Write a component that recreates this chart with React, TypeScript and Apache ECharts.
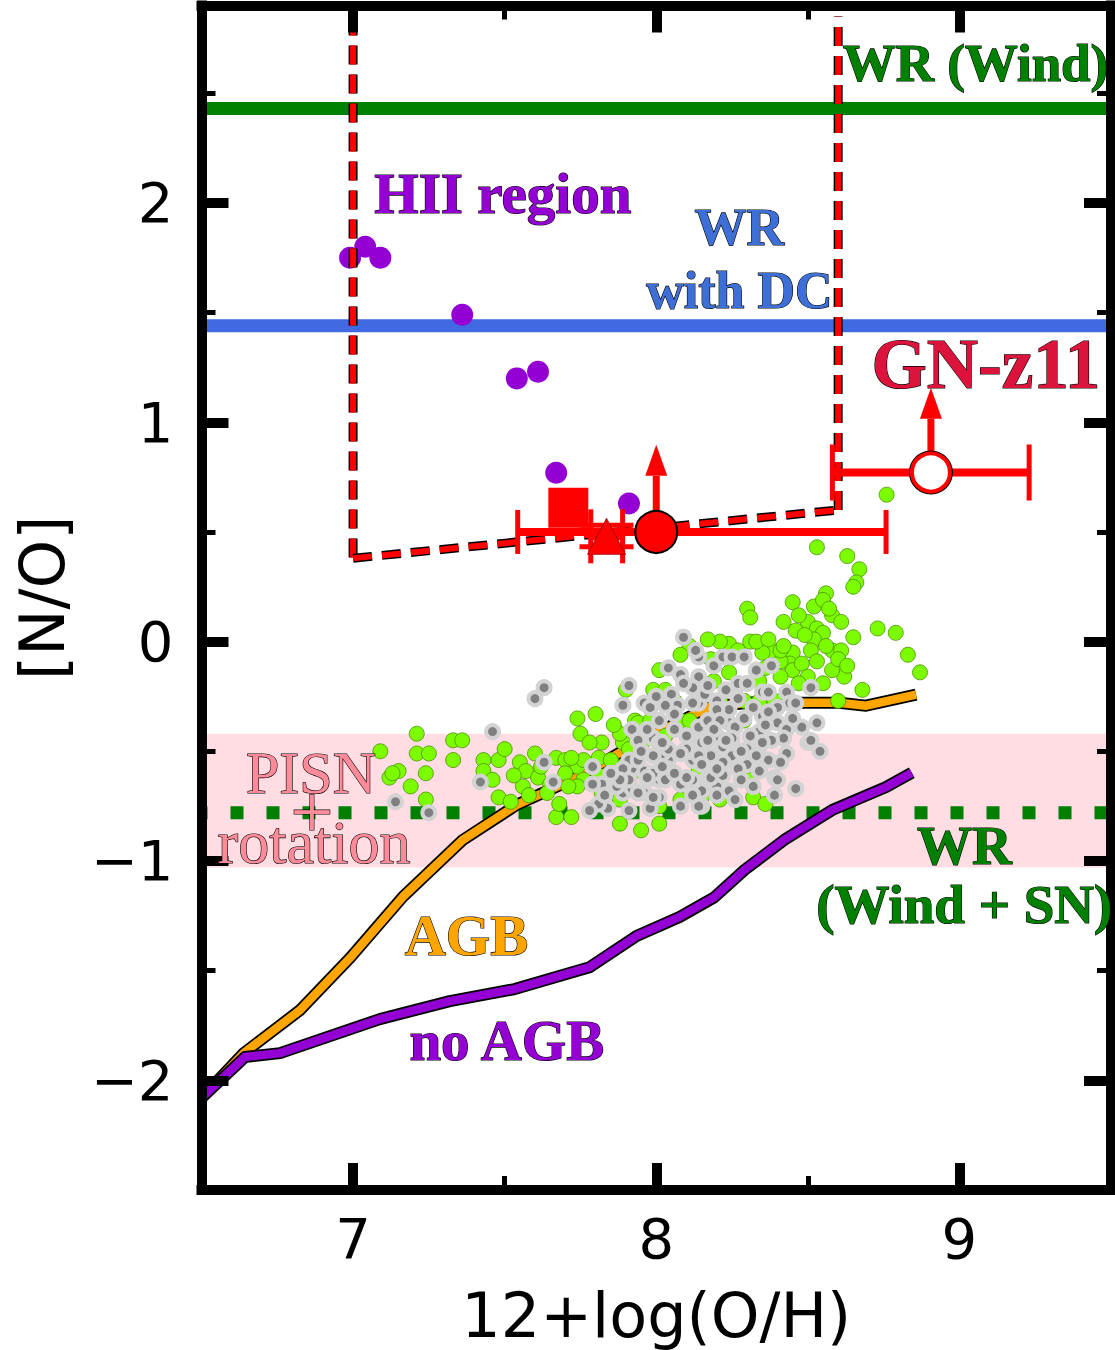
import React, { useEffect, useRef } from "react";
import * as echarts from "echarts";

const X_MIN = 6.5;
const X_MAX = 9.5;
const Y_MIN = -2.5;
const Y_MAX = 2.9;
const xMajorTicks = [7, 8, 9];
const xMinorTicks = [7.5, 8.5];
const yMajorTicks = [-2, -1, 0, 1, 2];
const yMinorTicks = [-1.5, -0.5, 0.5, 1.5, 2.5];

const wrWindLevel = 2.43;
const wrDcLevel = 1.44;
const wrWindSnLevel = -0.78;
const pisnBand = [-0.42, -1.03];

const agbCurve: [number, number][] = [
  [6.5, -2.08], [6.64, -1.875], [6.825, -1.68], [6.99, -1.442], [7.164, -1.164],
  [7.362, -0.904], [7.54, -0.744], [7.757, -0.607], [7.935, -0.461], [8.176, -0.297],
  [8.34, -0.274], [8.472, -0.279], [8.603, -0.279], [8.692, -0.292], [8.857, -0.242],
];

const noAgbCurve: [number, number][] = [
  [6.5, -2.08], [6.643, -1.894], [6.759, -1.876], [7.088, -1.721], [7.319, -1.639],
  [7.533, -1.584], [7.78, -1.484], [7.935, -1.342], [8.077, -1.255], [8.192, -1.165],
  [8.291, -1.041], [8.422, -0.904], [8.58, -0.768], [8.758, -0.663], [8.843, -0.598],
];

const hiiRegion: [number, number][] = [
  [6.99, 1.75], [7.04, 1.8], [7.09, 1.75], [7.36, 1.49], [7.54, 1.2],
  [7.61, 1.23], [7.67, 0.77], [7.91, 0.63],
];

const localGreen: [number, number][] = [
  [8.76, 0.67], [8.53, 0.43], [8.63, 0.39], [8.67, 0.33], [8.66, 0.27], [8.65, 0.25], [8.56, 0.22],
  [8.3, 0.15], [8.31, 0.11], [8.45, 0.18], [8.52, 0.16], [8.55, 0.19], [8.58, 0.12], [8.61, 0.09],
  [8.5, 0.09], [8.42, 0.09], [8.46, 0.05], [8.53, 0.06], [8.55, 0.04], [8.73, 0.06], [8.79, 0.04],
  [8.65, 0.02], [8.83, -0.06], [8.87, -0.14], [8.68, -0.22], [8.62, -0.16], [8.58, -0.13], [8.58, -0.04],
  [8.61, -0.04], [8.6, -0.08], [8.52, 0.01], [8.51, -0.04], [8.45, -0.05], [8.44, -0.1], [8.45, -0.13],
  [8.48, -0.1], [8.5, -0.16], [8.53, -0.09], [8.47, -0.19], [8.41, -0.09], [8.38, -0.04], [8.35, -0.05],
  [8.36, -0.12], [8.41, -0.16], [8.31, 0.0], [8.33, 0.0], [8.24, -0.01], [8.21, 0.0], [8.17, 0.01],
  [8.6, -0.27], [8.32, -0.71], [8.36, -0.74], [7.99, -0.22], [8.03, -0.22], [7.74, -0.35], [7.8, -0.33],
  [7.75, -0.42], [7.82, -0.46], [7.89, -0.46], [7.88, -0.42], [7.93, -0.36], [7.09, -0.5], [7.21, -0.42],
  [7.21, -0.51], [7.25, -0.51], [7.33, -0.45], [7.36, -0.45], [7.12, -0.62], [7.15, -0.59], [7.13, -0.6],
  [7.19, -0.66], [7.24, -0.6], [7.24, -0.72], [7.33, -0.54], [7.43, -0.54], [7.48, -0.54], [7.5, -0.49],
  [7.43, -0.59], [7.46, -0.63], [7.48, -0.71], [7.52, -0.73], [7.55, -0.55], [7.57, -0.59], [7.6, -0.51],
  [7.61, -0.62], [7.56, -0.66], [7.65, -0.65], [7.67, -0.53], [7.7, -0.54], [7.74, -0.57], [7.76, -0.54],
  [7.67, -0.8], [7.72, -0.8], [7.68, -0.74], [7.64, -0.69], [7.81, -0.53], [7.88, -0.83], [7.95, -0.86],
  [8.01, -0.83], [7.82, -0.69], [7.76, -0.63], [7.74, -0.66], [7.94, -0.37], [7.96, -0.45], [7.87, -0.57],
  [7.72, -0.53], [7.7, -0.6], [7.71, -0.66], [8.08, -0.72], [8.15, -0.71],
  [8.11, -0.02], [8.18, -0.08], [8.27, -0.04], [8.34, -0.18], [8.14, -0.22], [8.21, -0.27], [8.26, -0.22],
  [7.98, -0.36], [8.03, -0.43], [8.08, -0.36], [8.29, -0.36], [8.11, -0.36], [7.85, -0.54], [7.91, -0.49],
  [7.81, -0.61], [7.95, -0.59], [8.14, -0.59], [8.31, -0.63], [8.21, -0.72], [8.01, -0.75], [7.88, -0.72],
  [8.34, -0.27], [8.39, -0.27], [8.37, 0.01], [8.41, -0.04], [8.19, -0.18], [8.29, -0.27], [7.9, -0.22],
  [8.01, -0.13], [8.08, -0.06],
  [8.47, 0.12], [8.57, 0.15], [8.49, 0.03], [8.56, -0.02], [8.63, -0.11], [8.55, -0.19], [8.42, -0.02],
  [7.58, -0.7], [7.62, -0.57], [7.53, -0.61], [7.78, -0.46], [7.86, -0.38], [8.06, -0.27], [8.24, -0.14],
];

const localGray: [number, number][] = [
  [8.09, 0.02], [7.63, -0.21], [7.6, -0.26], [7.46, -0.41], [7.91, -0.2], [7.89, -0.29], [7.96, -0.28],
  [7.98, -0.3], [8.04, -0.12], [8.08, -0.15], [8.14, -0.16], [8.14, -0.07], [8.19, -0.11], [8.22, -0.07],
  [8.13, -0.04], [8.05, -0.24], [8.07, -0.29], [8.14, -0.28], [8.2, -0.27], [8.22, -0.31], [8.12, -0.21],
  [8.09, -0.19], [8.01, -0.36], [7.92, -0.4], [7.94, -0.45], [7.99, -0.44], [8.1, -0.43], [8.14, -0.39],
  [8.18, -0.36], [8.2, -0.43], [8.14, -0.46], [8.16, -0.51], [8.12, -0.54], [8.22, -0.48], [8.11, -0.5],
  [8.04, -0.54], [8.02, -0.51], [8.01, -0.46], [7.99, -0.52], [8.04, -0.58], [8.01, -0.63], [7.97, -0.63],
  [7.96, -0.59], [7.92, -0.58], [7.91, -0.54], [7.89, -0.58], [7.87, -0.65], [7.89, -0.69], [7.92, -0.67],
  [7.96, -0.69], [7.99, -0.6], [8.01, -0.71], [8.08, -0.65], [8.13, -0.65], [8.17, -0.62], [8.2, -0.66],
  [8.15, -0.68], [8.08, -0.75], [7.98, -0.76], [7.91, -0.77], [7.84, -0.76], [7.81, -0.74], [7.78, -0.77],
  [7.79, -0.57], [7.82, -0.65], [7.79, -0.65], [7.66, -0.64], [7.63, -0.55], [7.42, -0.64], [7.14, -0.73],
  [7.25, -0.78], [8.15, -0.75], [8.22, -0.55],
  [8.25, -0.07], [8.29, -0.07], [8.38, -0.11], [8.33, -0.13], [8.27, -0.19], [8.3, -0.19], [8.35, -0.23],
  [8.37, -0.23], [8.43, -0.23], [8.44, -0.28], [8.38, -0.33], [8.35, -0.34], [8.4, -0.37], [8.43, -0.4],
  [8.48, -0.39], [8.5, -0.46], [8.43, -0.51], [8.37, -0.54], [8.39, -0.62], [8.46, -0.67], [8.39, -0.7],
  [8.34, -0.41], [8.31, -0.43], [8.34, -0.48], [8.3, -0.49], [8.3, -0.56], [8.27, -0.58], [8.34, -0.58],
  [8.24, -0.31], [8.2, -0.31], [8.24, -0.37], [8.17, -0.36], [8.26, -0.39], [8.25, -0.44], [8.15, -0.46],
  [8.18, -0.52], [8.14, -0.52], [8.1, -0.49], [8.25, -0.52], [8.22, -0.55], [8.15, -0.56], [8.18, -0.62],
  [8.12, -0.63], [8.24, -0.68], [8.2, -0.7], [8.14, -0.75], [7.99, -0.71], [7.94, -0.69], [7.87, -0.66],
  [8.02, -0.57], [8.04, -0.49], [8.02, -0.46], [7.94, -0.54], [7.91, -0.63], [7.97, -0.62], [8.03, -0.63],
  [8.08, -0.51], [8.1, -0.62], [7.88, -0.63], [8.51, -0.21], [8.46, -0.28], [8.4, -0.3], [8.37, -0.32],
  [8.53, -0.37], [8.51, -0.45], [8.54, -0.5], [8.42, -0.44], [8.38, -0.45], [8.35, -0.46], [8.34, -0.59],
  [8.4, -0.63], [8.21, -0.36],
  [8.06, -0.33], [8.12, -0.28], [8.16, -0.24], [8.19, -0.4], [8.23, -0.45], [8.28, -0.5], [8.27, -0.26],
  [8.32, -0.3], [8.29, -0.35], [8.33, -0.52], [8.28, -0.63], [8.22, -0.61], [8.06, -0.4], [8.03, -0.29],
  [7.97, -0.4], [7.95, -0.5], [8.06, -0.6], [8.12, -0.7], [8.17, -0.45], [8.2, -0.58], [8.36, -0.38],
  [8.41, -0.55], [8.45, -0.35], [8.32, -0.66], [8.26, -0.72], [7.85, -0.6], [7.83, -0.7], [8.0, -0.25],
  [8.17, -0.2], [8.23, -0.22],
];

// dashed region box (vertices)
const boxLeft: [number, number][] = [[7.0, 2.85], [7.0, 0.38]];
const boxBottom: [number, number][] = [[7.0, 0.38], [8.6, 0.6]];
const boxRight: [number, number][] = [[8.6, 0.6], [8.6, 2.85]];

// red high-z points
const squarePoint: [number, number][] = [[7.71, 0.61]];
const trianglePoint: [number, number][] = [[7.836, 0.48]];
const circlePoint: [number, number][] = [[8.0, 0.5]];
const gnz11Point: [number, number][] = [[8.906, 0.771]];
// x error bars: [x, y, xLow, xHigh]
const xErrors: number[][] = [
  [8.0, 0.5, 7.543, 8.758],
  [7.836, 0.48, 7.784, 7.889],
  [8.906, 0.771, 8.581, 9.23],
];
const xErrCaps = [44, 54, 56];
// y error bars: [x, y, yLow, yHigh]
const yErrors: number[][] = [[7.836, 0.48, 0.432, 0.53]];
const yErrCaps = [54];
// lower limits: [x, y, arrowTip]
const lowerLimits: number[][] = [
  [8.0, 0.5, 0.897],
  [8.906, 0.771, 1.157],
];

const annotations = [
  { text: "WR (Wind)", at: [8.615, 2.64], color: "#008000", size: 53, align: "left", bold: true },
  { text: "HII region", at: [7.07, 2.045], color: "#9400D3", size: 57, align: "left", bold: true },
  { text: "WR", at: [8.274, 1.89], color: "#3E6FD6", size: 52, align: "center", bold: true },
  { text: "with DC", at: [8.274, 1.6], color: "#3E6FD6", size: 52, align: "center", bold: true },
  { text: "GN-z11", at: [8.71, 1.265], color: "#DC143C", size: 71, align: "left", bold: true },
  { text: "PISN", at: [6.861, -0.6], color: "#FF8A9A", size: 60, align: "center", bold: false },
  { text: "+", at: [6.864, -0.77], color: "#FF8A9A", size: 76, align: "center", bold: false },
  { text: "rotation", at: [6.871, -0.915], color: "#FF8A9A", size: 62, align: "center", bold: false },
  { text: "WR", at: [9.016, -0.93], color: "#008000", size: 55, align: "center", bold: true },
  { text: "(Wind + SN)", at: [9.016, -1.2], color: "#008000", size: 55, align: "center", bold: true },
  { text: "AGB", at: [7.374, -1.34], color: "#FFA500", size: 57, align: "center", bold: true },
  { text: "no AGB", at: [7.507, -1.82], color: "#9400D3", size: 57, align: "center", bold: true },
];

const SERIF = "'Liberation Serif', 'Times New Roman', 'DejaVu Serif', serif";
const SANS = "'DejaVu Sans', sans-serif";

function fmtMinus(v: number) {
  return v < 0 ? "\u2212" + Math.abs(v) : String(v);
}

function makeAxis(kind: "x" | "y", position: string, ticks: number[], major: boolean, withLabels: boolean) {
  const base: any = {
    type: "value",
    min: kind === "x" ? X_MIN : Y_MIN,
    max: kind === "x" ? X_MAX : Y_MAX,
    position,
    z: 20,
    splitLine: { show: false },
    axisLine: {
      show: major,
      onZero: false,
      lineStyle: { color: "#000", width: 10, cap: "square" },
    },
    axisTick: {
      show: true,
      inside: true,
      length: major ? 27 : 14,
      customValues: ticks,
      lineStyle: { color: "#000", width: major ? 10 : 5 },
    },
    axisLabel: { show: false },
  };
  if (withLabels) {
    base.axisLabel = {
      show: true,
      customValues: ticks,
      fontSize: 56,
      color: "#000",
      fontFamily: SANS,
      margin: kind === "x" ? 20 : 28,
      formatter: (v: number) => fmtMinus(v),
    };
    base.nameLocation = "middle";
    base.nameTextStyle = { fontSize: 62, color: "#000", fontFamily: SANS };
    if (kind === "x") {
      base.name = "12+log(O/H)";
      base.nameGap = 94;
    } else {
      base.name = "[N/O]";
      base.nameGap = 128;
    }
  }
  return base;
}

export default function App() {
  const ref = useRef<HTMLDivElement>(null);
  useEffect(() => {
    document.body.style.margin = "0";
    if (!ref.current) return;
    const chart = echarts.init(ref.current, null, { renderer: "svg" });

    const errX = {
      type: "custom",
      z: 9,
      data: xErrors,
      encode: { x: [0, 2, 3], y: 1 },
      renderItem: (params: any, api: any) => {
        const y = api.value(1);
        const p1 = api.coord([api.value(2), y]);
        const p2 = api.coord([api.value(3), y]);
        const c = xErrCaps[params.dataIndex] / 2;
        return {
          type: "group",
          children: [
            { type: "line", shape: { x1: p1[0], y1: p1[1], x2: p2[0], y2: p2[1] }, style: { stroke: "#FF0000", lineWidth: 8 } },
            { type: "line", shape: { x1: p1[0], y1: p1[1] - c, x2: p1[0], y2: p1[1] + c }, style: { stroke: "#FF0000", lineWidth: 5 } },
            { type: "line", shape: { x1: p2[0], y1: p2[1] - c, x2: p2[0], y2: p2[1] + c }, style: { stroke: "#FF0000", lineWidth: 5 } },
          ],
        };
      },
    };
    const errY = {
      type: "custom",
      z: 9,
      data: yErrors,
      encode: { x: 0, y: [1, 2, 3] },
      renderItem: (params: any, api: any) => {
        const x = api.value(0);
        const p1 = api.coord([x, api.value(2)]);
        const p2 = api.coord([x, api.value(3)]);
        const c = yErrCaps[params.dataIndex] / 2;
        return {
          type: "group",
          children: [
            { type: "line", shape: { x1: p1[0], y1: p1[1], x2: p2[0], y2: p2[1] }, style: { stroke: "#FF0000", lineWidth: 8 } },
            { type: "line", shape: { x1: p1[0] - c, y1: p1[1], x2: p1[0] + c, y2: p1[1] }, style: { stroke: "#FF0000", lineWidth: 5 } },
            { type: "line", shape: { x1: p2[0] - c, y1: p2[1], x2: p2[0] + c, y2: p2[1] }, style: { stroke: "#FF0000", lineWidth: 5 } },
          ],
        };
      },
    };
    const arrows = {
      type: "custom",
      z: 9,
      data: lowerLimits,
      encode: { x: 0, y: [1, 2] },
      renderItem: (params: any, api: any) => {
        const x = api.value(0);
        const b = api.coord([x, api.value(1)]);
        const t = api.coord([x, api.value(2)]);
        const hh = 31;
        const hw = 11;
        return {
          type: "group",
          children: [
            { type: "line", shape: { x1: b[0], y1: b[1], x2: t[0], y2: t[1] + hh }, style: { stroke: "#FF0000", lineWidth: 7 } },
            { type: "polygon", shape: { points: [[t[0] - hw, t[1] + hh], [t[0] + hw, t[1] + hh], [t[0], t[1]]] }, style: { fill: "#FF0000" } },
          ],
        };
      },
    };

    const curve = (data: [number, number][], color: string) => [
      { type: "line", z: 3, data, symbol: "none", silent: true, lineStyle: { color: "#000", width: 12, join: "round", opacity: 1 } },
      { type: "line", z: 3, data, symbol: "none", silent: true, lineStyle: { color, width: 8.5, join: "round", opacity: 1 } },
    ];
    const dashed = (data: [number, number][]) => [
      { type: "line", z: 8, data, symbol: "none", silent: true, lineStyle: { color: "#000", width: 9, type: [19, 10] } },
      { type: "line", z: 8, data, symbol: "none", silent: true, lineStyle: { color: "#FF0000", width: 6, type: [19, 10] } },
    ];
    const hline = (level: number) => [[X_MIN, level], [X_MAX, level]];
    const solid = { opacity: 1 };

    const option: any = {
      animation: false,
      backgroundColor: "#fff",
      grid: { left: 201.5, right: 4, top: 5.5, bottom: 160, containLabel: false, outerBoundsMode: "none" },
      xAxis: [
        makeAxis("x", "bottom", xMajorTicks, true, true),
        makeAxis("x", "top", xMajorTicks, true, false),
        makeAxis("x", "bottom", xMinorTicks, false, false),
        makeAxis("x", "top", xMinorTicks, false, false),
      ],
      yAxis: [
        makeAxis("y", "left", yMajorTicks, true, true),
        makeAxis("y", "right", yMajorTicks, true, false),
        makeAxis("y", "left", yMinorTicks, false, false),
        makeAxis("y", "right", yMinorTicks, false, false),
      ],
      series: [
        {
          type: "line",
          z: 1,
          data: hline(pisnBand[0]),
          symbol: "none",
          silent: true,
          lineStyle: { opacity: 0 },
          markArea: {
            silent: true,
            itemStyle: { color: "#FFDDE3", opacity: 1 },
            data: [[{ yAxis: pisnBand[0] }, { yAxis: pisnBand[1] }]],
          },
        },
        {
          type: "line",
          z: 2,
          data: hline(wrWindSnLevel),
          symbol: "none",
          silent: true,
          lineStyle: { color: "#007F00", width: 13, type: [13, 23], dashOffset: 7 },
        },
        ...curve(agbCurve, "#FFA500"),
        ...curve(noAgbCurve, "#9400D3"),
        {
          type: "scatter",
          z: 4,
          data: localGreen,
          symbolSize: 15,
          silent: true,
          itemStyle: { color: "#7CFC00", borderColor: "#4a8f00", borderWidth: 0.8, ...solid },
        },
        {
          type: "scatter",
          z: 5,
          data: localGray,
          symbolSize: 13,
          silent: true,
          itemStyle: { color: "#808080", borderColor: "#D3D3D3", borderWidth: 4, ...solid },
        },
        { type: "line", z: 6, data: hline(wrWindLevel), symbol: "none", silent: true, lineStyle: { color: "#008000", width: 13 } },
        { type: "line", z: 6, data: hline(wrDcLevel), symbol: "none", silent: true, lineStyle: { color: "#4169E1", width: 13 } },
        { type: "scatter", z: 7, data: hiiRegion, symbolSize: 22, silent: true, itemStyle: { color: "#9400D3", ...solid } },
        ...dashed(boxLeft),
        ...dashed(boxBottom),
        ...dashed(boxRight),
        errX,
        errY,
        arrows,
        { type: "scatter", z: 10, data: squarePoint, symbol: "rect", symbolSize: 40, silent: true, itemStyle: { color: "#FF0000", ...solid } },
        { type: "scatter", z: 10, data: trianglePoint, symbol: "triangle", symbolSize: [38, 36], silent: true, itemStyle: { color: "#FF0000", borderColor: "#900000", borderWidth: 0.8, ...solid } },
        { type: "scatter", z: 10, data: circlePoint, symbolSize: 42, silent: true, itemStyle: { color: "#FF0000", borderColor: "#000", borderWidth: 2, ...solid } },
        { type: "scatter", z: 10, data: gnz11Point, symbolSize: 44, silent: true, itemStyle: { color: "#000", ...solid } },
        { type: "scatter", z: 11, data: gnz11Point, symbolSize: 38, silent: true, itemStyle: { color: "#FFFFFF", borderColor: "#FF0000", borderWidth: 4, ...solid } },
      ],
    };
    chart.setOption(option);

    const graphics = annotations.map((a) => {
      const p = chart.convertToPixel({ xAxisIndex: 0, yAxisIndex: 0 }, a.at) as number[];
      return {
        type: "text",
        z: 100,
        x: p[0],
        y: p[1],
        silent: true,
        style: {
          text: a.text,
          fill: a.color,
          stroke: "#000",
          lineWidth: 1.2,
          font: `${a.bold ? "bold " : ""}${a.size}px ${SERIF}`,
          textAlign: a.align,
          textVerticalAlign: "middle",
        },
      };
    });
    chart.setOption({ graphic: graphics });

    return () => chart.dispose();
  }, []);
  return <div ref={ref} style={{ width: 1115, height: 1350 }} />;
}
